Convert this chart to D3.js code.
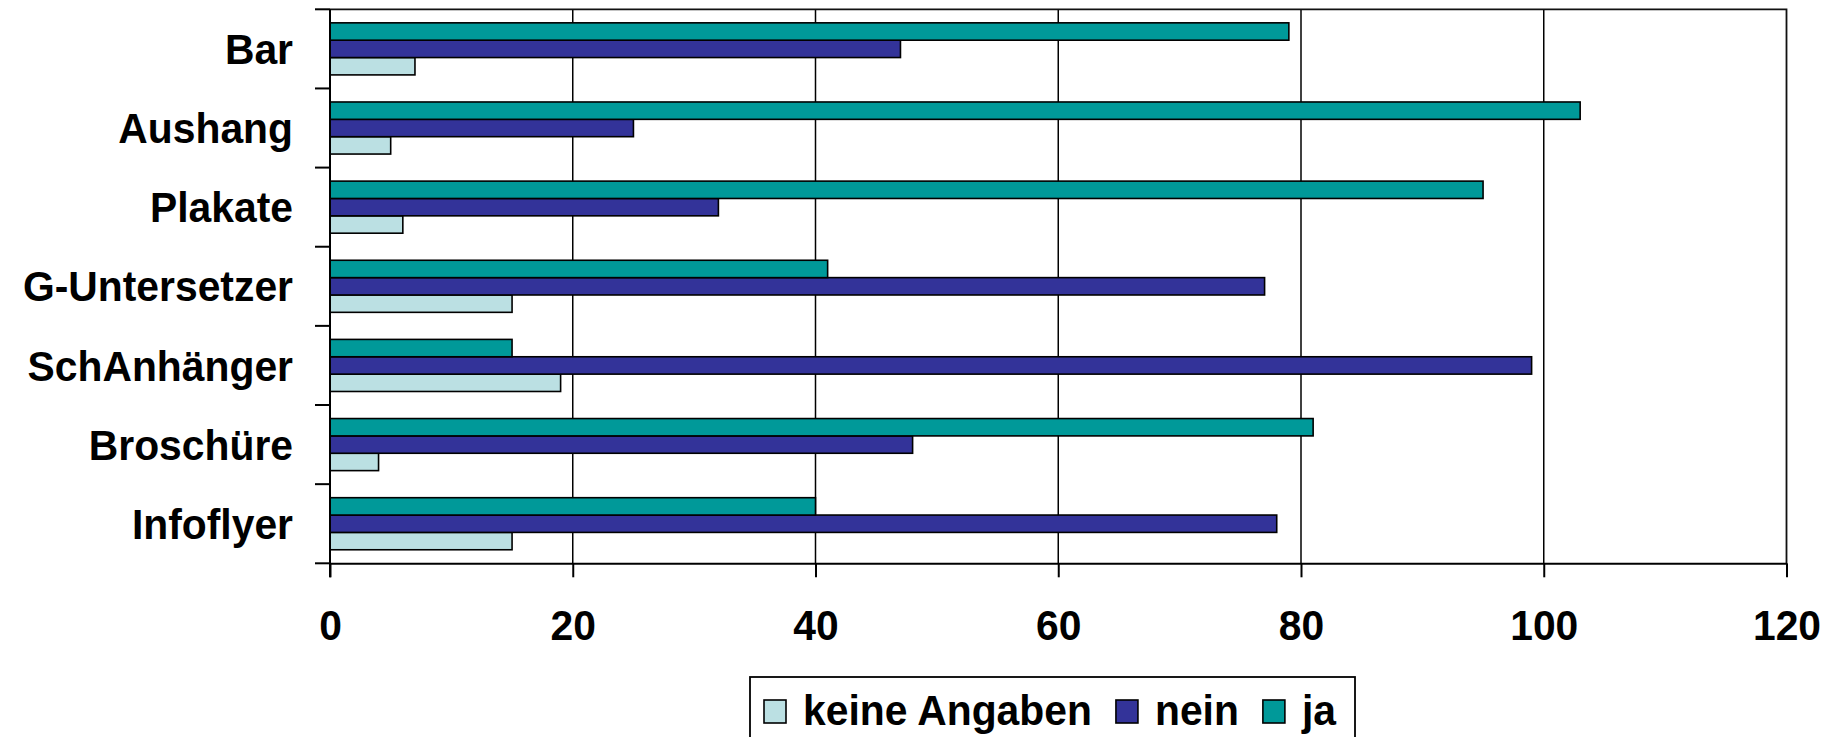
<!DOCTYPE html>
<html>
<head>
<meta charset="utf-8">
<script src="https://cdn.jsdelivr.net/npm/d3@7"></script>
<style>
  body { margin: 0; background: #fff; }
  svg text { font-family: "Liberation Sans", Arial, sans-serif; font-weight: bold; fill: #000; }
</style>
</head>
<body>
<svg id="chart" width="1834" height="737"></svg>
<script>
// data
var categories = ["Bar", "Aushang", "Plakate", "G-Untersetzer", "SchAnhänger", "Broschüre", "Infoflyer"];
var seriesNames = ["keine Angaben", "nein", "ja"];
var keineAngaben = [7, 5, 6, 15, 19, 4, 15];
var nein = [47, 25, 32, 77, 99, 48, 78];
var ja = [79, 103, 95, 41, 15, 81, 40];
var xTicks = [0, 20, 40, 60, 80, 100, 120];
var colors = ["#bbe0e3", "#333399", "#009999"];

var seriesValues = [keineAngaben, nein, ja];

var svg = d3.select("svg#chart");
var plotLeft = 330, plotRight = 1786.5, plotTop = 9.3, plotBottom = 563.3;
var fontSize = "43px";
var squeeze = 0.95; // text in the original is a bit narrow

var x = d3.scaleLinear().domain([0, 120]).range([plotLeft, plotRight]);
var y = d3.scaleBand().domain(categories).range([plotTop, plotBottom]).padding(0);
// ja on top, keine Angaben at the bottom of each group
var ySub = d3.scaleBand().domain(["ja", "nein", "keine Angaben"])
  .range([0, y.bandwidth()]).paddingInner(0).paddingOuter(0.78);

// gridlines
svg.append("g").selectAll("line")
  .data(xTicks.filter(function(t) { return t > 0 && t < 120; }))
  .join("line")
  .attr("x1", function(d) { return x(d); })
  .attr("x2", function(d) { return x(d); })
  .attr("y1", plotTop).attr("y2", plotBottom)
  .style("stroke", "#000").style("stroke-width", 1.5);

// plot border (top + right)
svg.append("path")
  .attr("d", "M" + plotLeft + "," + plotTop + "H" + plotRight + "V" + plotBottom)
  .style("fill", "none").style("stroke", "#111").style("stroke-width", 1.8);

// bars
seriesNames.forEach(function(name, si) {
  svg.append("g").selectAll("rect")
    .data(seriesValues[si])
    .join("rect")
    .attr("x", x(0))
    .attr("y", function(d, i) { return y(categories[i]) + ySub(name); })
    .attr("width", function(d) { return x(d) - x(0); })
    .attr("height", ySub.bandwidth())
    .attr("fill", colors[si])
    .style("stroke", "#000").style("stroke-width", 1.6);
});

// left axis line and category ticks at band boundaries
svg.append("line")
  .attr("x1", plotLeft).attr("x2", plotLeft).attr("y1", plotTop).attr("y2", plotBottom + 14)
  .style("stroke", "#000").style("stroke-width", 2);
var bounds = categories.map(function(c) { return y(c); }).concat([plotBottom]);
svg.append("g").selectAll("line")
  .data(bounds)
  .join("line")
  .attr("x1", plotLeft - 15).attr("x2", plotLeft)
  .attr("y1", function(d) { return d; }).attr("y2", function(d) { return d; })
  .style("stroke", "#000").style("stroke-width", 2);

svg.append("g").selectAll("text")
  .data(categories)
  .join("text")
  .attr("transform", function(d) {
    return "translate(293," + (y(d) + y.bandwidth() / 2) + ") scale(" + squeeze + ",1)";
  })
  .attr("dy", "0.35em")
  .attr("text-anchor", "end")
  .style("font-size", fontSize)
  .text(function(d) { return d; });

// bottom axis
var xAxis = svg.append("g")
  .attr("transform", "translate(0," + plotBottom + ")")
  .call(d3.axisBottom(x).tickValues(xTicks).tickSize(14).tickSizeOuter(0));
xAxis.select(".domain").style("stroke", "#000").style("stroke-width", 2);
xAxis.selectAll(".tick line").style("stroke", "#000").style("stroke-width", 2);
xAxis.selectAll(".tick text")
  .attr("y", 77).attr("dy", "0")
  .attr("transform", "scale(" + squeeze + ",1)")
  .style("font-size", fontSize)
  .style("font-family", "'Liberation Sans', Arial, sans-serif");

// legend
var legend = svg.append("g");
legend.append("rect")
  .attr("x", 750).attr("y", 677).attr("width", 605).attr("height", 90)
  .attr("fill", "#fff").style("stroke", "#000").style("stroke-width", 1.8);
var lx = 764;
seriesNames.forEach(function(name, si) {
  legend.append("rect")
    .attr("x", lx).attr("y", 700).attr("width", 22).attr("height", 23)
    .attr("fill", colors[si]).style("stroke", "#000").style("stroke-width", 1.6);
  var t = legend.append("text")
    .attr("transform", "translate(" + (lx + 39) + ",725) scale(" + squeeze + ",1)")
    .style("font-size", fontSize)
    .text(name);
  lx = lx + 39 + t.node().getComputedTextLength() * squeeze + 24;
});
</script>
</body>
</html>
